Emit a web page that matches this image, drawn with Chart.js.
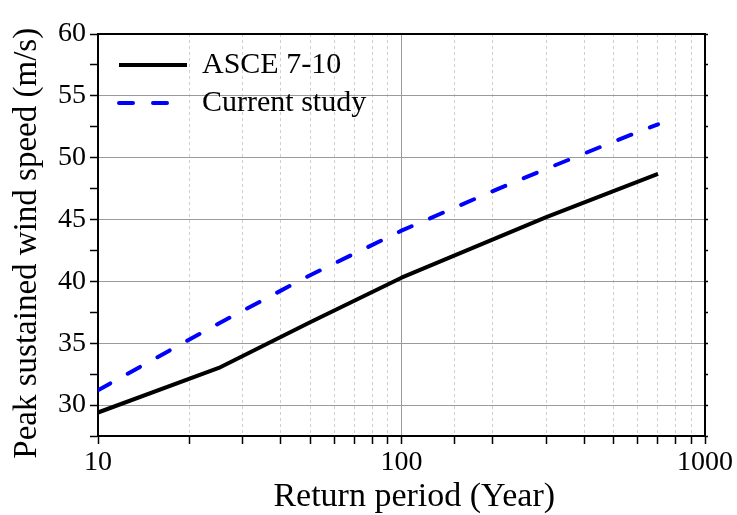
<!DOCTYPE html>
<html>
<head>
<meta charset="utf-8">
<script src="https://cdn.jsdelivr.net/npm/chart.js@4.4.1/dist/chart.umd.min.js"></script>
<style>
  html, body { margin: 0; padding: 0; background: #fff; }
  #wrap { width: 737px; height: 515px; }
</style>
</head>
<body>
<div id="wrap"><canvas id="windChart" width="737" height="515"></canvas></div>
<script>
// Return periods (years) and peak sustained wind speeds (m/s)
const asceYears = [10, 25, 50, 100, 300, 700];
const asceSpeed = [29.4, 33.0, 36.7, 40.3, 45.2, 48.7];
const studyYears = [10, 20, 25, 50, 100, 200, 300, 500, 700];
const studySpeed = [31.2, 35.3, 36.6, 40.5, 44.1, 47.3, 49.1, 51.3, 52.7];
const xLabelTicks = [10, 100, 1000];

const serif = "'Liberation Serif', 'Times New Roman', serif";
Chart.defaults.font.family = serif;
Chart.defaults.color = '#000';

const toPoints = (xs, ys) => xs.map((x, i) => ({ x: x, y: ys[i] }));
const isDecade = (v) => Math.abs(Math.log10(v) - Math.round(Math.log10(v))) < 1e-9;
const isMajorY = (v) => Math.abs(v / 5 - Math.round(v / 5)) < 1e-9;

// nudge the in-plot legend to where it sits in the figure
const legendSpot = {
  id: 'legendSpot',
  afterLayout(chart) {
    const lg = chart.legend;
    if (!lg) return;
    lg.left = chart.chartArea.left + 13;
    lg.top = chart.chartArea.top + 8;
  }
};

new Chart(document.getElementById('windChart'), {
  type: 'line',
  data: {
    datasets: [
      {
        label: 'ASCE 7-10',
        data: toPoints(asceYears, asceSpeed),
        borderColor: '#000',
        backgroundColor: '#000',
        borderWidth: 4,
        borderCapStyle: 'butt',
        borderJoinStyle: 'round',
        pointRadius: 0,
        tension: 0,
        clip: 0
      },
      {
        label: 'Current study',
        data: toPoints(studyYears, studySpeed),
        borderColor: '#0000ff',
        backgroundColor: '#0000ff',
        borderWidth: 4,
        borderDash: [14, 20],
        borderCapStyle: 'round',
        pointRadius: 0,
        tension: 0,
        clip: 0
      }
    ]
  },
  options: {
    responsive: false,
    animation: false,
    layout: { padding: 0 },
    plugins: {
      tooltip: { enabled: false },
      legend: {
        position: 'chartArea',
        align: 'start',
        labels: {
          usePointStyle: true,
          pointStyle: 'line',
          pointStyleWidth: 68,
          padding: 8,
          color: '#000',
          font: { size: 30, family: serif },
          generateLabels: (chart) =>
            Chart.defaults.plugins.legend.labels.generateLabels(chart).map((l) => {
              const ds = chart.data.datasets[l.datasetIndex];
              return Object.assign(l, {
                strokeStyle: ds.borderColor,
                lineWidth: ds.borderWidth,
                lineDash: ds.borderDash || [],
                lineCap: ds.borderCapStyle,
                lineDashOffset: 0
              });
            })
        }
      }
    },
    scales: {
      x: {
        type: 'logarithmic',
        position: 'bottom',
        min: 10,
        max: 1000,
        afterFit: (s) => { s.height = 79; },
        border: {
          display: true,
          color: '#000',
          width: 2,
          dash: (ctx) => (ctx.tick && isDecade(ctx.tick.value) ? [] : [3, 3])
        },
        grid: {
          color: (ctx) => (ctx.tick && isDecade(ctx.tick.value) ? '#9a9a9a' : '#cfcfcf'),
          lineWidth: 1,
          tickColor: '#000',
          tickLength: 8,
          tickWidth: 1.5
        },
        ticks: {
          autoSkip: false,
          maxRotation: 0,
          padding: 2,
          color: '#000',
          font: { size: 28, family: serif },
          callback: (v) => (xLabelTicks.includes(v) ? String(v) : '')
        },
        title: {
          display: true,
          // leading spaces push the title a little right, as in the figure
          text: '   Return period (Year)',
          color: '#000',
          font: { size: 34, family: serif, lineHeight: 1.2 },
          padding: { top: 0, bottom: -2 }
        }
      },
      x2: {
        type: 'logarithmic',
        position: 'top',
        min: 10,
        max: 1000,
        afterFit: (s) => { s.height = 34; },
        border: { display: true, color: '#000', width: 2 },
        grid: { display: false },
        ticks: { display: false }
      },
      y: {
        type: 'linear',
        position: 'left',
        min: 27.5,
        max: 60,
        afterFit: (s) => { s.width = 98; },
        border: { display: true, color: '#000', width: 2 },
        grid: {
          color: (ctx) => (ctx.tick && isMajorY(ctx.tick.value) ? '#9a9a9a' : 'rgba(0,0,0,0)'),
          lineWidth: 1,
          tickColor: '#000',
          tickLength: 8,
          tickWidth: 1.5
        },
        ticks: {
          stepSize: 2.5,
          autoSkip: false,
          padding: 4,
          color: '#000',
          font: { size: 28, family: serif },
          callback: (v) => (isMajorY(v) ? String(v) : '')
        },
        title: {
          display: true,
          text: 'Peak sustained wind speed (m/s)  ',
          color: '#000',
          font: { size: 33, family: serif, lineHeight: 1.2 },
          padding: { top: 8, bottom: 0 }
        }
      },
      y2: {
        type: 'linear',
        position: 'right',
        min: 27.5,
        max: 60,
        afterFit: (s) => { s.width = 32; },
        border: { display: true, color: '#000', width: 2 },
        grid: {
          drawOnChartArea: false,
          tickColor: '#000',
          tickLength: 3,
          tickWidth: 1.5
        },
        ticks: { display: false, stepSize: 2.5, autoSkip: false }
      }
    }
  },
  plugins: [legendSpot]
});
</script>
</body>
</html>
